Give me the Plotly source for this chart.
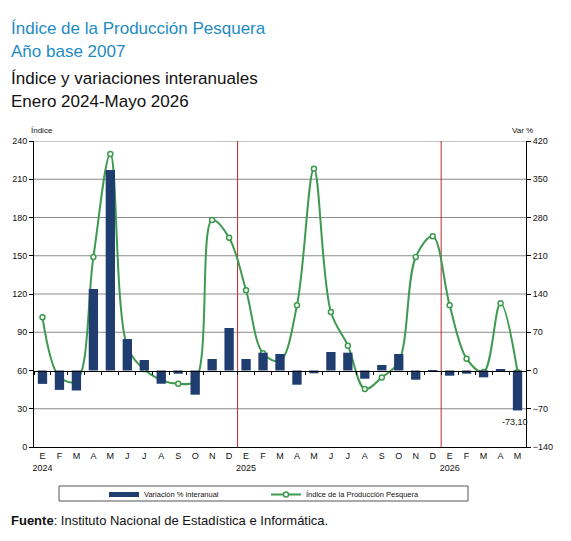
import plotly.graph_objects as go

# ---------------- data ----------------
years = [2024, 2025, 2026]
month_letters = ["E", "F", "M", "A", "M", "J", "J", "A", "S", "O", "N", "D"]
n_months = 29  # Enero 2024 - Mayo 2026

indice = [101.7, 54.9, 51.8, 149.0, 229.8, 78.7, 60.9, 52.5, 49.7, 51.8, 178.0, 164.2,
          122.9, 73.5, 67.7, 111.1, 218.3, 105.9, 79.5, 45.5, 54.6, 66.9, 149.0, 165.3,
          111.1, 69.3, 58.8, 112.7, 58.7]
variacion = [-24.5, -35.5, -36.6, 149.2, 367.0, 57.6, 19.2, -24.2, -5.9, -44.3, 21.0, 77.8,
             21.0, 32.6, 30.2, -26.0, -5.1, 33.9, 32.6, -15.0, 10.1, 30.2, -16.8, 0.6,
             -9.5, -5.8, -12.5, 2.0, -73.10]

left_ticks = [0, 30, 60, 90, 120, 150, 180, 210, 240]
right_ticks = [-140, -70, 0, 70, 140, 210, 280, 350, 420]

categories = []
ticktext = []
for i in range(n_months):
    y = years[0] + i // 12
    m = i % 12
    categories.append(f"{y}-{m+1:02d}")
    ticktext.append(month_letters[m] + ("<br>" + str(y) if m == 0 else "<br> "))

# ---------------- layout geometry ----------------
W, H = 571, 541
L, R, T, B = 34, 526, 141, 447
def px2x(px):
    return (px - L) / (R - L)
def py2y(py):
    return (B - py) / (B - T)

FONT = "Liberation Sans Narrow, Arial Narrow, Liberation Sans, Arial, sans-serif"
BLUE_T = "#1e8bc3"
BAR_C = "#1f3e6f"
LINE_C = "#3d9a4f"

fig = go.Figure()

fig.add_trace(go.Bar(
    x=categories, y=variacion, name="Variación % interanual",
    marker=dict(color=BAR_C, line=dict(width=0)), width=0.55,
    xaxis="x2", yaxis="y2", showlegend=False, legendgroup="var",
))
# legend entry for the bars (flat swatch as in the original legend)
fig.add_trace(go.Scatter(
    x=[None], y=[None], name="Variación % interanual", mode="lines",
    line=dict(color=BAR_C, width=5), legendgroup="var", xaxis="x2", yaxis="y2",
))
fig.add_trace(go.Scatter(
    x=categories, y=indice, name="Índice de la Producción Pesquera",
    mode="lines+markers", line=dict(color=LINE_C, width=2, shape="spline", smoothing=1.0),
    marker=dict(symbol="circle", size=5, color="white", line=dict(color=LINE_C, width=1.5)),
    xaxis="x", yaxis="y",
))

shapes = []
# horizontal gridlines
for v in left_ticks[1:]:
    if v == 60:
        continue
    shapes.append(dict(type="line", xref="paper", yref="y", x0=0, x1=1, y0=v, y1=v,
                       line=dict(color="#8a8a8a", width=1), layer="below"))
# red separators between years
for i in range(1, n_months):
    if i % 12 == 0:
        shapes.append(dict(type="line", xref="x", yref="paper", x0=i - 0.5, x1=i - 0.5,
                           y0=0, y1=1, line=dict(color="#c0282d", width=1), layer="below"))
# legend box
shapes.append(dict(type="rect", xref="paper", yref="paper",
                   x0=px2x(59), x1=px2x(468), y0=py2y(501), y1=py2y(486),
                   line=dict(color="#555555", width=1), fillcolor="white", layer="below"))

annotations = [
    dict(text="Índice de la Producción Pesquera", x=px2x(9), y=py2y(29), xanchor="left", yanchor="middle",
         font=dict(family=FONT, size=17, color=BLUE_T)),
    dict(text="Año base 2007", x=px2x(9), y=py2y(52), xanchor="left", yanchor="middle",
         font=dict(family=FONT, size=17, color=BLUE_T)),
    dict(text="Índice y variaciones interanuales", x=px2x(9), y=py2y(78), xanchor="left", yanchor="middle",
         font=dict(family=FONT, size=17, color="#111111")),
    dict(text="Enero 2024-Mayo 2026", x=px2x(9), y=py2y(101), xanchor="left", yanchor="middle",
         font=dict(family=FONT, size=17, color="#111111")),
    dict(text="Índice", x=px2x(42), y=py2y(131), xanchor="center", yanchor="middle",
         font=dict(family=FONT, size=8, color="#111111")),
    dict(text="Var %", x=px2x(522), y=py2y(131), xanchor="center", yanchor="middle",
         font=dict(family=FONT, size=8, color="#111111")),
    dict(text=f"{variacion[-1]:.2f}".replace(".", ","), x=categories[-1], xref="x2",
         y=variacion[-1], yref="y2", yshift=-5, xshift=-3, showarrow=False, xanchor="center", yanchor="top",
         font=dict(family=FONT, size=9, color="#111111")),
    dict(text="<b>Fuente</b>: Instituto Nacional de Estadística e Informática.", x=px2x(9), y=py2y(520),
         xanchor="left", yanchor="middle", font=dict(family=FONT, size=13, color="#111111")),
]
for a in annotations:
    a.setdefault("xref", "paper")
    a.setdefault("yref", "paper")
    a.setdefault("showarrow", False)

fig.update_layout(
    width=W, height=H,
    margin=dict(l=L, r=W - R, t=T, b=H - B, pad=0, autoexpand=False),
    paper_bgcolor="white", plot_bgcolor="white",
    font=dict(family=FONT, size=9, color="#111111"),
    showlegend=True,
    legend=dict(orientation="h", xref="container", yref="container",
                x=104 / W, y=1 - 480 / H, xanchor="left", yanchor="top",
                bgcolor="rgba(0,0,0,0)", borderwidth=0,
                font=dict(family=FONT, size=7.5, color="#111111"),
                entrywidth=117, entrywidthmode="pixels", itemwidth=30,
                tracegroupgap=0),
    xaxis=dict(type="category", categoryorder="array", categoryarray=categories,
               range=[-0.5, n_months - 0.5], tickmode="array", tickvals=categories, ticktext=ticktext,
               showline=True, linecolor="black", linewidth=1, ticks="", showgrid=False,
               tickfont=dict(family=FONT, size=9, color="#111111"), anchor="y", fixedrange=True),
    xaxis2=dict(type="category", categoryorder="array", categoryarray=categories,
                range=[-0.5, n_months - 0.5], overlaying="x", anchor="free", position=0.25,
                side="bottom", showline=True, linecolor="black", linewidth=1,
                ticks="outside", ticklen=3, tickcolor="black", tickson="boundaries",
                showticklabels=False, showgrid=False),
    yaxis=dict(range=[0, 240], tickmode="array", tickvals=left_ticks, showgrid=False,
               showline=True, linecolor="black", linewidth=1, ticks="outside", ticklen=4,
               tickcolor="black", zeroline=False,
               tickfont=dict(family=FONT, size=9, color="#111111")),
    yaxis2=dict(range=[-140, 420], tickmode="array", tickvals=right_ticks, overlaying="y",
                side="right", anchor="x", showgrid=False, zeroline=False,
                showline=True, linecolor="black", linewidth=1, ticks="outside", ticklen=4,
                tickcolor="black", tickfont=dict(family=FONT, size=9, color="#111111")),
    shapes=shapes,
    annotations=annotations,
)

fig.write_html("out.html")
